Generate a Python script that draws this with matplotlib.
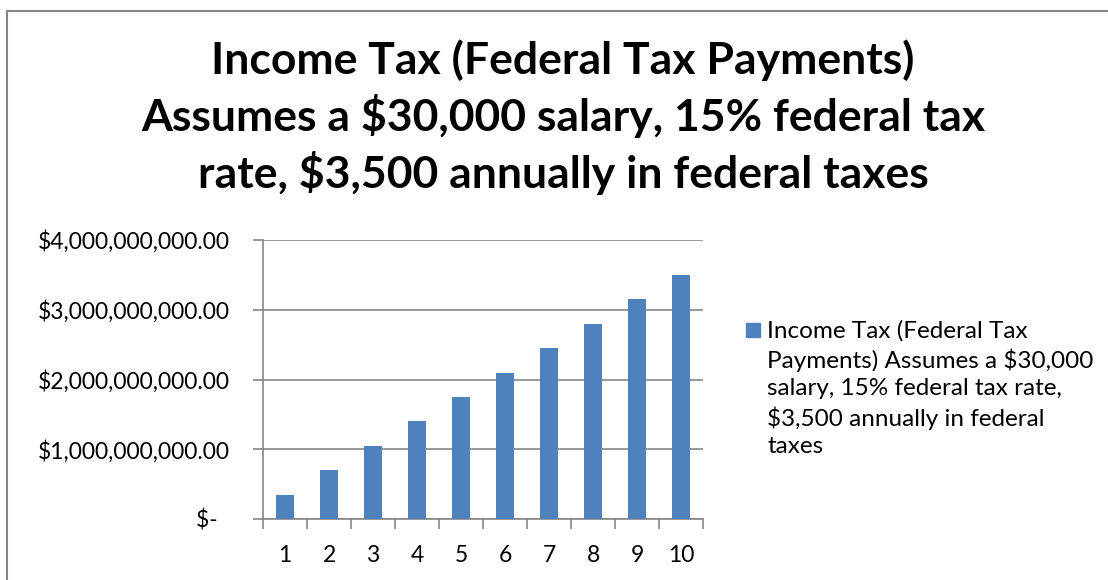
import matplotlib.pyplot as plt
from matplotlib.patches import Rectangle
from matplotlib.ticker import FuncFormatter

plt.rcParams["font.family"] = ["Lato", "DejaVu Sans"]

categories = ["1", "2", "3", "4", "5", "6", "7", "8", "9", "10"]
payments = [350e6, 700e6, 1050e6, 1400e6, 1750e6, 2100e6, 2450e6, 2800e6, 3150e6, 3500e6]
title = ("Income Tax (Federal Tax Payments)\n"
         "Assumes a $30,000 salary, 15% federal tax\n"
         "rate, $3,500 annually in federal taxes")
legend_label = ("Income Tax (Federal Tax\n"
                "Payments) Assumes a $30,000\n"
                "salary, 15% federal tax rate,\n"
                "$3,500 annually in federal\n"
                "taxes")

bar_color = "#4F81BD"
grid_color = "#868686"

W, H = 1108, 580
fig = plt.figure(figsize=(W / 100, H / 100), dpi=100)
ax = fig.add_axes([263 / W, 1 - 519 / H, 440 / W, 279 / H])

x = range(len(categories))
ax.bar(x, payments, width=0.4, color=bar_color, zorder=3)

ax.set_xlim(-0.5, len(categories) - 0.5)
ax.set_ylim(0, 4e9)
ax.set_yticks([0, 1e9, 2e9, 3e9, 4e9])
# accounting style: zero shows as "$-" with a little padding on the right
ax.yaxis.set_major_formatter(FuncFormatter(
    lambda v, p: "$-  " if v == 0 else f"${v:,.2f}"))
ax.set_xticks(list(x))
ax.set_xticklabels(categories)
ax.set_xticks([i - 0.5 for i in range(len(categories) + 1)], minor=True)
ax.tick_params(axis="x", which="major", length=0, labelsize=16.5, pad=19)
ax.tick_params(axis="x", which="minor", length=7, color=grid_color, width=1.2)
ax.tick_params(axis="y", length=7, color=grid_color, width=1.2, labelsize=16.5, pad=17)
ax.grid(axis="y", color=grid_color, linewidth=1.2, zorder=0)

for side in ["top", "right"]:
    ax.spines[side].set_visible(False)
for side in ["left", "bottom"]:
    ax.spines[side].set_color(grid_color)
    ax.spines[side].set_linewidth(1.2)

fig.text(563 / W, 1 - 39 / H, title, ha="center", va="top",
         fontsize=32, fontweight="bold", linespacing=1.35)

# legend drawn by hand so the swatch sits on the first line
fig.patches.append(Rectangle((746 / W, 1 - 337 / H), 14 / W, 14 / H,
                             transform=fig.transFigure, color=bar_color))
fig.text(767 / W, 1 - 320 / H, legend_label, ha="left", va="top",
         fontsize=17.5, linespacing=1.36)

fig.patches.append(Rectangle((6.5 / W, -0.1), 1.2, 1 - 10.5 / H + 0.1,
                             transform=fig.transFigure, fill=False,
                             edgecolor=grid_color, linewidth=1.5))

fig.savefig("out.png", dpi=100)
